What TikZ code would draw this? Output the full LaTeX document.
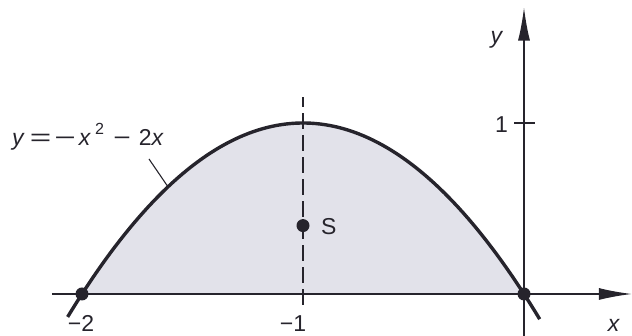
\documentclass[tikz,border=0pt]{standalone}
\usepackage{fontspec}
\usepackage{graphicx}
\setmainfont{Liberation Sans}
\usetikzlibrary{arrows.meta}
\definecolor{fillc}{RGB}{226,226,234}
\definecolor{ink}{RGB}{38,36,44}
\newcommand{\wideop}[2][1.6]{\scalebox{#1}[1]{#2}}
\begin{document}
\begin{tikzpicture}[x=1pt,y=1pt,
  font=\fontsize{23}{27}\selectfont,
  axis/.style={draw=ink, line width=1.4pt},
  arr/.style={-{Latex[length=33pt,width=12pt]}},
  curve/.style={draw=ink, line width=3.4pt},
  sym/.style={draw=ink, line width=1.3pt, dash pattern=on 16pt off 6pt},
  dot/.style={circle, fill=ink, inner sep=0pt, minimum size=13pt},
  lbl/.style={text=ink, inner sep=0pt}]
\useasboundingbox (0,0) rectangle (632,336);
\begin{scope}[shift={(524,42)}, x=221pt, y=171pt]
  \fill[fillc] (-2,0) -- plot[domain=-2:0, samples=80] (\x, {-(\x)*(\x)-2*(\x)}) -- cycle;
  \coordinate (xs) at (-2.136,0);
  \coordinate (xe) at (0.488,0);
  \coordinate (ys) at (0,-0.2456);
  \coordinate (ye) at (0,1.675);
  \coordinate (t1) at (-0.045,1);
  \coordinate (t2) at (0.05,1);
  \coordinate (ds) at (-1,-0.064);
  \coordinate (de) at (-1,1.152);
  \draw[sym] (ds) -- (de);
  \draw[axis, arr] (xs) -- (xe);
  \draw[axis, arr] (ys) -- (ye);
  \draw[axis] (t1) -- (t2);
  \draw[curve] plot[domain=-2.065:0.072, samples=100] (\x, {-(\x)*(\x)-2*(\x)});
  \node[dot] (P1) at (-2,0) {};
  \node[dot] (P2) at (0,0) {};
  \node[dot] (S) at (-1,0.4) {};
  \coordinate (C) at (-1.611,0.627);
\end{scope}
\node[lbl, anchor=base west] (F) at (12,190)
  {\textit{y}\hspace{5pt}\wideop{=}\hspace{3pt}\wideop{−}\hspace{3pt}\textit{x}\hspace{4pt}\raisebox{2pt}{\textsuperscript{2}}\hspace{9pt}\wideop[1.3]{−}\hspace{8pt}2\textit{x}};
\coordinate (L) at (149,177);
\draw[ink, line width=1.1pt] (L) -- (C);
\node[lbl, anchor=base east] (one) at (508,203) {1};
\node[lbl] (ylab) at (497,296) {\textit{y}};
\node[lbl, anchor=base] (xlab) at (614,4) {\textit{x}};
\node[lbl, anchor=base] (m2) at (81,4) {−2};
\node[lbl, anchor=base] (m1) at (293,4) {−1};
\node[lbl, anchor=base west] (Slab) at (321,101) {S};
\end{tikzpicture}
\end{document}
